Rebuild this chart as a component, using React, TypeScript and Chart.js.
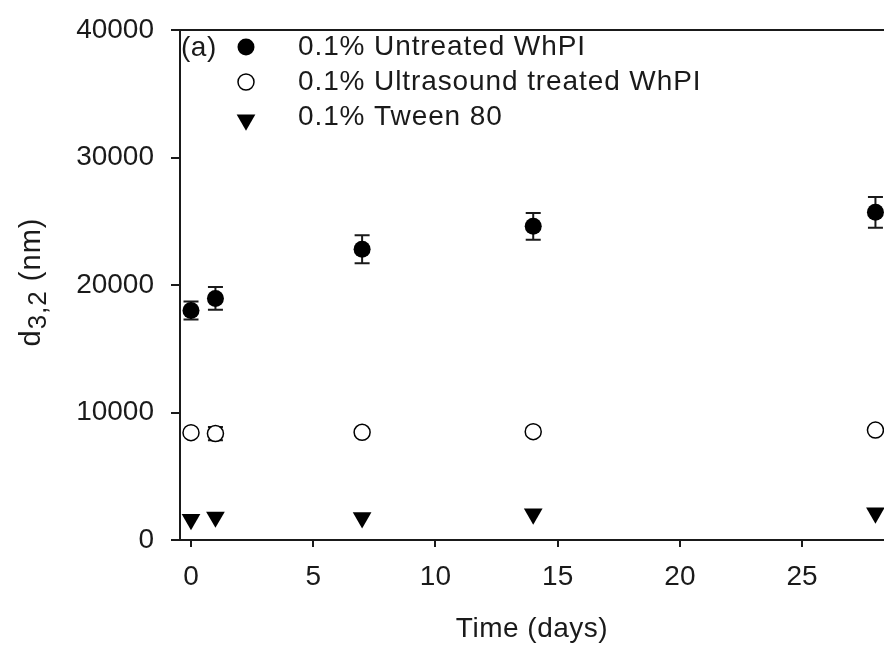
import React, { useEffect, useRef } from "react";
import { Chart, registerables } from "chart.js";

Chart.register(...registerables);

const days = [0, 1, 7, 14, 28];
const untreated = [18000, 18950, 22800, 24600, 25700];
const untreatedErr = [700, 900, 1100, 1050, 1200];
const ultrasound = [8420, 8350, 8450, 8500, 8620];
const ultrasoundErr = [0, 520, 0, 300, 0];
const tween = [1620, 1800, 1750, 2050, 2130];
const tweenErr = [0, 0, 0, 0, 0];

const seriesLabels = [
  "0.1% Untreated WhPI",
  "0.1% Ultrasound treated WhPI",
  "0.1% Tween 80",
];
const xTickValues = [0, 5, 10, 15, 20, 25];
const yTickValues = [0, 10000, 20000, 30000, 40000];
const panelLabel = "(a)";
const xTitle = "Time (days)";
const yTitleMain = "d";
const yTitleSub = "3,2";
const yTitleUnit = " (nm)";

const INK = "#1a1a1a";
const FONT = "Liberation Sans, Arial, sans-serif";

const errorBarPlugin = {
  id: "errorBars",
  beforeDatasetsDraw(chart: any) {
    const ctx = chart.ctx;
    const ys = chart.scales.y;
    chart.data.datasets.forEach((ds: any, i: number) => {
      const meta = chart.getDatasetMeta(i);
      if (!ds.errors) return;
      ctx.save();
      ctx.strokeStyle = INK;
      ctx.lineWidth = 2;
      meta.data.forEach((pt: any, j: number) => {
        const e = ds.errors[j];
        if (!e) return;
        const v = ds.data[j].y;
        const top = ys.getPixelForValue(v + e);
        const bot = ys.getPixelForValue(v - e);
        const x = pt.x;
        ctx.beginPath();
        ctx.moveTo(x, top);
        ctx.lineTo(x, bot);
        ctx.moveTo(x - 7.5, top);
        ctx.lineTo(x + 7.5, top);
        ctx.moveTo(x - 7.5, bot);
        ctx.lineTo(x + 7.5, bot);
        ctx.stroke();
      });
      ctx.restore();
    });
  },
};

function drawMarker(ctx: CanvasRenderingContext2D, style: string, x: number, y: number, r: number) {
  ctx.save();
  ctx.beginPath();
  if (style === "filled") {
    ctx.fillStyle = "#000";
    ctx.arc(x, y, r, 0, Math.PI * 2);
    ctx.fill();
  } else if (style === "open") {
    ctx.fillStyle = "#fff";
    ctx.strokeStyle = "#000";
    ctx.lineWidth = 1.5;
    ctx.arc(x, y, r, 0, Math.PI * 2);
    ctx.fill();
    ctx.stroke();
  } else {
    ctx.fillStyle = "#000";
    const w = r * Math.sqrt(3) / 2;
    ctx.moveTo(x - w, y - r / 2);
    ctx.lineTo(x + w, y - r / 2);
    ctx.lineTo(x, y + r);
    ctx.closePath();
    ctx.fill();
  }
  ctx.restore();
}

const decorPlugin = {
  id: "decor",
  afterDraw(chart: any) {
    const ctx = chart.ctx as CanvasRenderingContext2D;
    const area = chart.chartArea;
    ctx.save();
    // top frame line
    ctx.strokeStyle = INK;
    ctx.lineWidth = 2;
    ctx.beginPath();
    ctx.moveTo(area.left - 9, area.top);
    ctx.lineTo(chart.width, area.top);
    ctx.stroke();

    ctx.fillStyle = INK;
    ctx.font = `28px ${FONT}`;
    ctx.textBaseline = "middle";
    ctx.textAlign = "left";
    (ctx as any).letterSpacing = "0.5px";
    ctx.fillText(panelLabel, area.left + 1, area.top + 18);

    // legend
    const styles = ["filled", "open", "tri"];
    const sizes = [8.5, 8, 10.8];
    const rowY = [47, 82, 117];
    (ctx as any).letterSpacing = "0.9px";
    seriesLabels.forEach((lab, i) => {
      const yy = rowY[i];
      drawMarker(ctx, styles[i], 246, styles[i] === "tri" ? yy + 3 : yy, sizes[i]);
      ctx.fillStyle = INK;
      ctx.fillText(lab, 298, yy);
    });

    // x title
    ctx.textAlign = "center";
    ctx.textBaseline = "alphabetic";
    (ctx as any).letterSpacing = "0.5px";
    ctx.fillText(xTitle, (area.left + chart.width) / 2, 637);

    // y title (rotated)
    ctx.translate(40, 282);
    ctx.rotate(-Math.PI / 2);
    ctx.textAlign = "left";
    ctx.font = `29px ${FONT}`;
    (ctx as any).letterSpacing = "1px";
    const w1 = ctx.measureText(yTitleMain).width;
    ctx.font = `26px ${FONT}`;
    const w2 = ctx.measureText(yTitleSub).width;
    ctx.font = `29px ${FONT}`;
    const w3 = ctx.measureText(yTitleUnit).width;
    let sx = -(w1 + w2 + w3) / 2;
    ctx.fillText(yTitleMain, sx, 0);
    sx += w1;
    ctx.font = `26px ${FONT}`;
    ctx.fillText(yTitleSub, sx, 6);
    sx += w2;
    ctx.font = `29px ${FONT}`;
    ctx.fillText(yTitleUnit, sx, 0);
    ctx.restore();
  },
};

export default function App() {
  const ref = useRef<HTMLCanvasElement>(null);
  useEffect(() => {
    if (!ref.current) return;
    const mk = (vals: number[]) => days.map((d, i) => ({ x: d, y: vals[i] }));
    const chart = new Chart(ref.current, {
      type: "scatter",
      data: {
        datasets: [
          {
            label: seriesLabels[0],
            data: mk(untreated),
            errors: untreatedErr,
            pointStyle: "circle",
            pointRadius: 8.5,
            backgroundColor: "#000",
            borderColor: "#000",
            borderWidth: 0,
          } as any,
          {
            label: seriesLabels[1],
            data: mk(ultrasound),
            errors: ultrasoundErr,
            pointStyle: "circle",
            pointRadius: 8,
            backgroundColor: "#fff",
            borderColor: "#000",
            borderWidth: 1.5,
          } as any,
          {
            label: seriesLabels[2],
            data: mk(tween),
            errors: tweenErr,
            pointStyle: "triangle",
            rotation: 180,
            pointRadius: 10.8,
            backgroundColor: "#000",
            borderColor: "#000",
            borderWidth: 0,
          } as any,
        ],
      },
      options: {
        animation: false,
        responsive: false,
        devicePixelRatio: 1,
        layout: { autoPadding: false, padding: { top: 30, right: 0, left: 0, bottom: 0 } },
        plugins: { legend: { display: false }, tooltip: { enabled: false } },
        scales: {
          x: {
            type: "linear",
            min: -0.45,
            max: 28.35,
            afterBuildTicks: (s: any) => {
              s.ticks = xTickValues.map((v) => ({ value: v }));
            },
            afterFit: (s: any) => {
              s.height = 108;
              s.paddingLeft = 0;
              s.paddingRight = 0;
            },
            border: { display: true, color: INK, width: 2 },
            grid: {
              display: true,
              drawOnChartArea: false,
              drawTicks: true,
              tickLength: 7,
              color: INK,
              lineWidth: 2,
            },
            ticks: {
              color: INK,
              padding: 13,
              maxRotation: 0,
              font: { family: FONT, size: 28 },
            },
          },
          y: {
            type: "linear",
            min: 0,
            max: 40000,
            afterBuildTicks: (s: any) => {
              s.ticks = yTickValues.map((v) => ({ value: v }));
            },
            afterFit: (s: any) => {
              s.width = 180;
              s.paddingTop = 0;
              s.paddingBottom = 0;
            },
            border: { display: true, color: INK, width: 2 },
            grid: {
              display: true,
              drawOnChartArea: false,
              drawTicks: true,
              tickLength: 9,
              color: INK,
              lineWidth: 2,
            },
            ticks: {
              color: INK,
              padding: 17,
              font: { family: FONT, size: 28 },
              callback: (v: any) => String(v),
            },
          },
        },
      } as any,
      plugins: [errorBarPlugin, decorPlugin],
    });
    return () => chart.destroy();
  }, []);
  return (
    <div style={{ position: "absolute", left: 0, top: 0, width: 884, height: 648, background: "#fff" }}>
      <canvas ref={ref} width={884} height={648} style={{ display: "block" }} />
    </div>
  );
}
